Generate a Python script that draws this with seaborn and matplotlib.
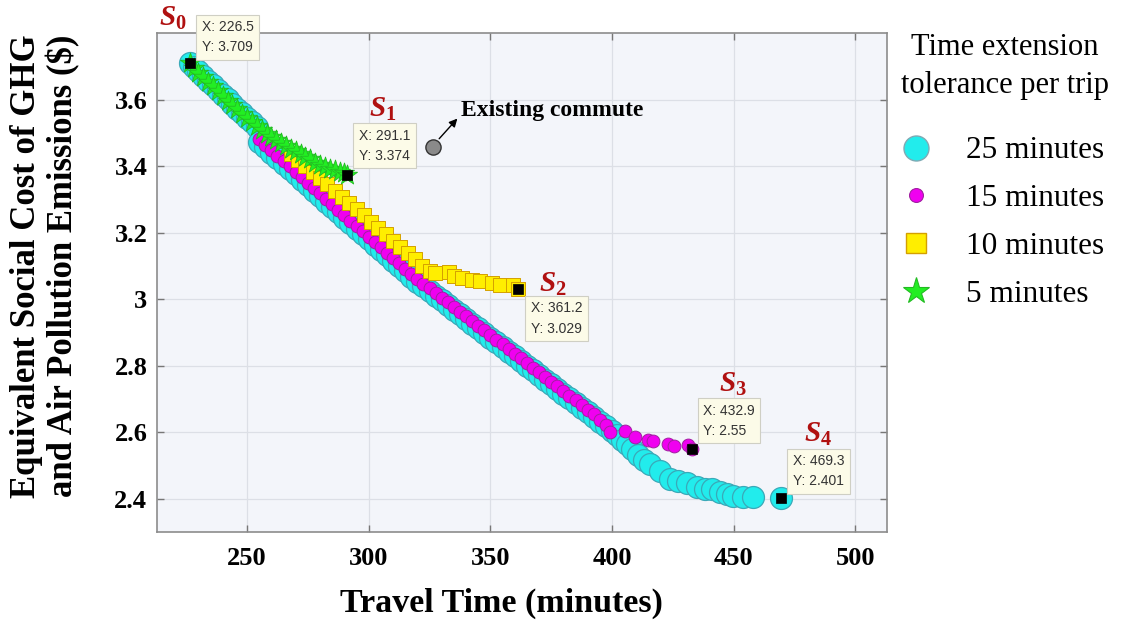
import matplotlib
matplotlib.use("Agg")
import matplotlib.pyplot as plt
from matplotlib.lines import Line2D
import seaborn as sns

# ---------------- data ----------------
# 25 minutes tolerance (cyan circles)
x25 = [226.5, 228, 230, 232, 234, 236, 238, 240, 242, 244, 246, 248, 250, 252, 254,
       255, 257.5, 260, 262.5, 265, 267.5, 270, 272.5, 275, 277.5, 280, 282.5, 285, 287.5,
       290, 292.5, 295, 297.5, 300, 302.5, 305, 307.5, 310, 312.5, 315, 317.5, 320, 322.5,
       325, 327.5, 330, 332.5, 335, 337.5, 340, 342.5, 345, 347.5, 350, 352.5, 355, 357.5,
       360, 362.5, 365, 367.5, 370, 372.5, 375, 377.5, 380, 382.5, 385, 387.5, 390, 392.5,
       395, 397.5, 400,
       402, 404, 406, 408, 410.7, 413, 415.6, 419.7, 423.8, 427, 430.8, 434.9, 438, 441,
       444.5, 447.2, 449.6, 454, 457.8, 469.3]
y25 = [3.709, 3.699, 3.685, 3.671, 3.657, 3.643, 3.629, 3.615, 3.601, 3.587, 3.573, 3.559, 3.545, 3.531, 3.517,
       3.472, 3.456, 3.440, 3.423, 3.407, 3.391, 3.375, 3.358, 3.342, 3.326, 3.310, 3.293, 3.277, 3.261,
       3.245, 3.228, 3.212, 3.196, 3.180, 3.164, 3.148, 3.132, 3.116, 3.100, 3.084, 3.068, 3.052, 3.038,
       3.024, 3.010, 2.996, 2.982, 2.968, 2.954, 2.940, 2.926, 2.912, 2.898, 2.884, 2.870, 2.856, 2.842,
       2.828, 2.814, 2.800, 2.786, 2.772, 2.758, 2.744, 2.730, 2.716, 2.702, 2.688, 2.674, 2.660, 2.646,
       2.632, 2.618, 2.604,
       2.592, 2.578, 2.564, 2.550, 2.530, 2.516, 2.503, 2.482, 2.458, 2.452, 2.446, 2.434, 2.430, 2.428,
       2.420, 2.413, 2.407, 2.405, 2.404, 2.401]

# 15 minutes tolerance (magenta circles)
x15 = [255, 257.5, 260, 262.5, 265, 267.5, 270, 272.5, 275, 277.5, 280, 282.5, 285, 287.5,
       290, 292.5, 295, 297.5, 300, 302.5, 305, 307.5, 310, 312.5, 315, 317.5, 320, 322.5,
       325, 327.5, 330, 332.5, 335, 337.5, 340, 342.5, 345, 347.5, 350, 352.5, 355, 357.5,
       360, 362.5, 365, 367.5, 370, 372.5, 375, 377.5, 380, 382.5, 385, 387.5, 390, 392.5,
       395, 397.5, 399.2,
       405.3, 409.4, 414.8, 417.0, 422.8, 425.5, 431.1, 432.9]
y15 = [3.480, 3.464, 3.448, 3.431, 3.415, 3.399, 3.383, 3.366, 3.350, 3.334, 3.318, 3.301, 3.285, 3.269,
       3.253, 3.236, 3.220, 3.204, 3.188, 3.172, 3.156, 3.140, 3.124, 3.108, 3.092, 3.076, 3.060, 3.046,
       3.032, 3.018, 3.004, 2.990, 2.976, 2.962, 2.948, 2.934, 2.920, 2.906, 2.892, 2.878, 2.864, 2.850,
       2.836, 2.822, 2.808, 2.794, 2.780, 2.766, 2.752, 2.738, 2.724, 2.710, 2.696, 2.682, 2.668, 2.654,
       2.638, 2.622, 2.600,
       2.603, 2.585, 2.576, 2.573, 2.564, 2.558, 2.563, 2.550]

# 10 minutes tolerance (yellow squares)
x10 = [268, 271, 274, 277, 280, 283, 286, 289, 292, 295, 298, 301, 304, 307, 310,
       313, 316, 319, 322, 325.3, 327.4, 332.9, 334.9, 338.4, 342.5, 345.9, 350.7, 354.1, 359.3, 361.2]
y10 = [3.437, 3.418, 3.400, 3.382, 3.363, 3.345, 3.326, 3.307, 3.288, 3.270, 3.252,
       3.233, 3.214, 3.195, 3.176, 3.157, 3.138, 3.120, 3.100, 3.085, 3.080, 3.083, 3.070, 3.065,
       3.057, 3.055, 3.048, 3.043, 3.043, 3.029]

# 5 minutes tolerance (green stars)
x5 = [226.5, 228, 230, 232, 234, 236, 238, 240, 242, 244, 246, 248, 250, 252, 254, 256, 258, 260,
      262, 264, 266, 268, 270, 272, 274, 276, 278, 280, 282, 284, 286, 288, 290, 291.1]
y5 = [3.709, 3.695, 3.680, 3.667, 3.652, 3.640, 3.625, 3.610, 3.597, 3.584, 3.571, 3.558, 3.545,
      3.533, 3.520, 3.508, 3.497, 3.487, 3.478, 3.468, 3.460, 3.452, 3.444, 3.436, 3.428, 3.420,
      3.410, 3.402, 3.396, 3.392, 3.388, 3.383, 3.378, 3.374]

# highlighted solutions S0..S4
sol_names = ["0", "1", "2", "3", "4"]
sol_x = [226.5, 291.1, 361.2, 432.9, 469.3]
sol_y = [3.709, 3.374, 3.029, 2.55, 2.401]
sol_xlab = ["226.5", "291.1", "361.2", "432.9", "469.3"]
sol_ylab = ["3.709", "3.374", "3.029", "2.55", "2.401"]

# existing commute
exist_x = [326.6]
exist_y = [3.456]

series_labels = ["25 minutes", "15 minutes", "10 minutes", "5 minutes"]
xticks = [250, 300, 350, 400, 450, 500]
yticks = [2.4, 2.6, 2.8, 3.0, 3.2, 3.4, 3.6]
yticklabels = ["2.4", "2.6", "2.8", "3", "3.2", "3.4", "3.6"]

# ---------------- styling ----------------
plt.rcParams["mathtext.fontset"] = "custom"
plt.rcParams["mathtext.it"] = "Liberation Serif:italic:bold"
plt.rcParams["mathtext.rm"] = "Liberation Serif:bold"
plt.rcParams["mathtext.bf"] = "Liberation Serif:bold"

SERIF = "Liberation Serif"
C25, E25 = "#22ecec", "#3aa9b8"
C15, E15 = "#f000f0", "#a020a0"
C10, E10 = "#ffee00", "#d4a000"
C5, E5 = "#22ee22", "#22bb22"

fig = plt.figure(figsize=(11.28, 6.24), dpi=100)
ax = fig.add_axes([157 / 1128, 1 - 532 / 624, 730 / 1128, 499 / 624])
ax.set_facecolor("#f3f5fa")

sns.scatterplot(x=x25, y=y25, ax=ax, s=250, color=C25, edgecolor=E25, linewidth=0.9,
                marker="o", legend=False, zorder=3)
sns.scatterplot(x=x15, y=y15, ax=ax, s=85, color=C15, edgecolor=E15, linewidth=0.7,
                marker="o", legend=False, zorder=4)
sns.scatterplot(x=x10, y=y10, ax=ax, s=110, color=C10, edgecolor=E10, linewidth=0.7,
                marker="s", legend=False, zorder=5)
sns.scatterplot(x=x5, y=y5, ax=ax, s=230, color=C5, edgecolor=E5, linewidth=0.6,
                marker="*", legend=False, zorder=6)
sns.scatterplot(x=exist_x, y=exist_y, ax=ax, s=120, color="#8a8a8a", edgecolor="#333333",
                linewidth=1.0, marker="o", legend=False, zorder=6)
sns.scatterplot(x=sol_x, y=sol_y, ax=ax, s=48, color="black", edgecolor="black",
                linewidth=0.5, marker="s", legend=False, zorder=8)

ax.set_xlim(213, 513)
ax.set_ylim(2.3, 3.8)
ax.set_xticks(xticks)
ax.set_xticklabels([str(t) for t in xticks])
ax.set_yticks(yticks)
ax.set_yticklabels(yticklabels)
ax.grid(True, color="#dcdfe6", linewidth=0.9, zorder=0)
ax.set_axisbelow(True)
for sp in ax.spines.values():
    sp.set_color("#8c8c8c")
    sp.set_linewidth(1.2)
ax.tick_params(direction="in", length=5, width=1, color="#777777", top=True, right=True)
ax.tick_params(axis="x", pad=11)
ax.tick_params(axis="y", pad=7)
for lab in ax.get_xticklabels() + ax.get_yticklabels():
    lab.set_fontfamily(SERIF)
    lab.set_fontweight("bold")
    lab.set_fontsize(19)

# axis labels
ax.set_xlabel("Travel Time (minutes)", fontsize=24.5, fontweight="bold", family=SERIF)
ax.xaxis.set_label_coords((501 - 157) / 730, -0.112)
fig.text(45 / 1128, 1 - 266 / 624, "Equivalent Social Cost of GHG\nand Air Pollution Emissions ($)",
         rotation=90, ha="center", va="center", fontsize=25, fontweight="bold",
         family=SERIF, linespacing=1.1, multialignment="center")

# data tips
tip_offsets = [(12, 9, "left", "bottom"), (12, 12, "left", "bottom"), (13, -12, "left", "top"),
               (11, 11, "left", "bottom"), (12, 10, "left", "bottom")]
for i in range(len(sol_x)):
    dx, dy, ha, va = tip_offsets[i]
    ax.annotate(f"X: {sol_xlab[i]}\nY: {sol_ylab[i]}", xy=(sol_x[i], sol_y[i]),
                xytext=(dx, dy), textcoords="offset pixels", ha=ha, va=va,
                fontsize=10, family="Liberation Sans", color="#333333", linespacing=1.55,
                bbox=dict(boxstyle="square,pad=0.4", fc="#fcfbe8", ec="#cfcfc4", lw=0.8),
                zorder=9, annotation_clip=False)

# S labels
s_lab_x = [219.5, 305.7, 375.8, 449.6, 484.5]
s_lab_y = [3.845, 3.573, 3.046, 2.745, 2.594]
for i in range(len(sol_x)):
    ax.text(s_lab_x[i], s_lab_y[i], r"$S_{%s}$" % sol_names[i], color="#b01010",
            fontsize=21, ha="center", va="center", clip_on=False, zorder=10)

# existing commute
ax.annotate("", xy=(337.2, 3.549), xytext=(exist_x[0] + 1.6, exist_y[0] + 0.02),
            arrowprops=dict(arrowstyle="-|>", color="black", lw=1.0, mutation_scale=12),
            zorder=7)
ax.text(337.8, 3.567, "Existing commute", fontsize=17, fontweight="bold", family=SERIF,
        ha="left", va="center", zorder=7)

# legend
handles = [
    Line2D([], [], ls="none", marker="o", markersize=18, mfc=C25, mec="#7faab4", mew=1.0),
    Line2D([], [], ls="none", marker="o", markersize=10, mfc=C15, mec=E15, mew=0.8),
    Line2D([], [], ls="none", marker="s", markersize=14, mfc=C10, mec=E10, mew=1.0),
    Line2D([], [], ls="none", marker="*", markersize=20, mfc=C5, mec=E5, mew=0.8),
]
leg = ax.legend(handles, series_labels, loc="upper left",
                bbox_to_anchor=(888 / 1128, 1 - 124 / 624), bbox_transform=fig.transFigure,
                frameon=False, prop={"family": SERIF, "size": 22.5}, labelspacing=0.6,
                handlelength=1.0, handletextpad=1.1, borderaxespad=0)
fig.text(1005 / 1128, 1 - 66.5 / 624, "Time extension\ntolerance per trip", ha="center",
         va="center", fontsize=22, family=SERIF, linespacing=1.4)

fig.savefig("out.png", dpi=100)
